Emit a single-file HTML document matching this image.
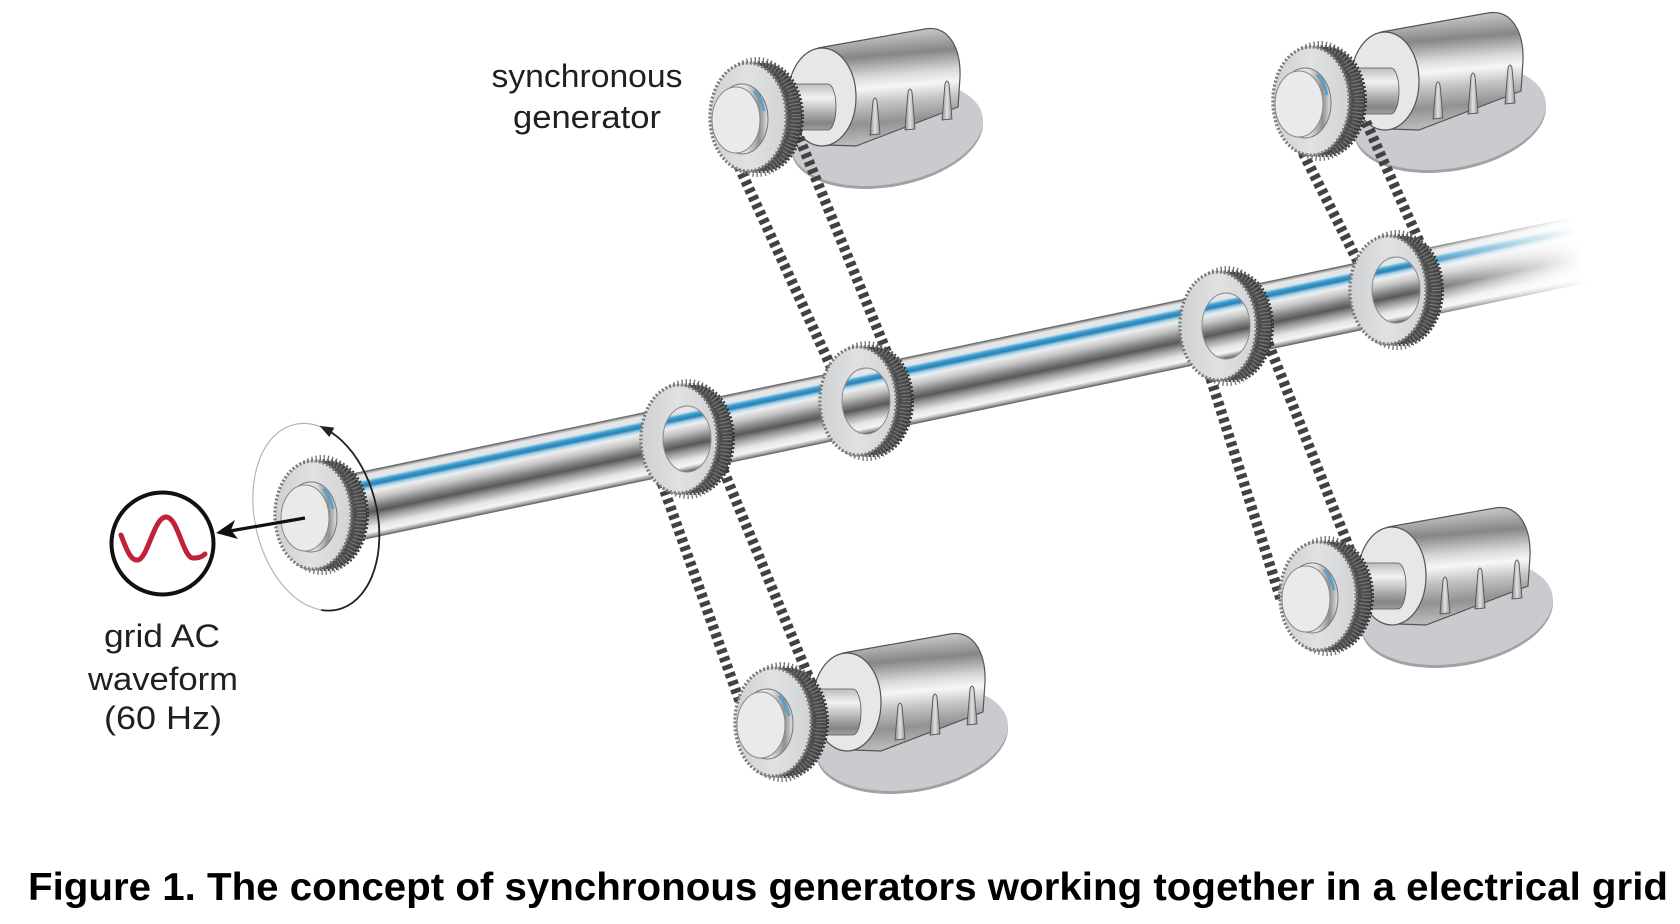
<!DOCTYPE html>
<html><head><meta charset="utf-8"><style>
html,body{margin:0;padding:0;background:#fff;}
svg{display:block;}
</style></head><body>
<svg width="1680" height="924" viewBox="0 0 1680 924" xmlns="http://www.w3.org/2000/svg">
<defs>
  <linearGradient id="shaftGrad" gradientUnits="userSpaceOnUse" x1="0" y1="-33" x2="0" y2="33">
    <stop offset="0" stop-color="#7d7d7d"/>
    <stop offset="0.05" stop-color="#e6e6e6"/>
    <stop offset="0.12" stop-color="#e0e6ea"/>
    <stop offset="0.165" stop-color="#3a9fd3"/>
    <stop offset="0.215" stop-color="#2a80b2"/>
    <stop offset="0.26" stop-color="#a9d4ea"/>
    <stop offset="0.31" stop-color="#eeeeee"/>
    <stop offset="0.42" stop-color="#c4c4c4"/>
    <stop offset="0.54" stop-color="#7f7f7f"/>
    <stop offset="0.62" stop-color="#595959"/>
    <stop offset="0.71" stop-color="#9c9c9c"/>
    <stop offset="0.83" stop-color="#e4e4e4"/>
    <stop offset="0.92" stop-color="#f5f5f5"/>
    <stop offset="1" stop-color="#7a7a7a"/>
  </linearGradient>
  <linearGradient id="fadeGrad" gradientUnits="userSpaceOnUse" x1="1110" y1="0" x2="1290" y2="0">
    <stop offset="0" stop-color="#fff"/>
    <stop offset="1" stop-color="#000"/>
  </linearGradient>
  <mask id="shaftFade" maskUnits="userSpaceOnUse" x="-30" y="-80" width="1360" height="160">
    <rect x="-30" y="-80" width="1360" height="160" fill="url(#fadeGrad)"/>
  </mask>
  <linearGradient id="bodyGrad" gradientUnits="userSpaceOnUse" x1="100" y1="-92" x2="110" y2="25">
    <stop offset="0" stop-color="#e2e2e2"/>
    <stop offset="0.12" stop-color="#bdbdbd"/>
    <stop offset="0.28" stop-color="#868686"/>
    <stop offset="0.45" stop-color="#d8d8d8"/>
    <stop offset="0.55" stop-color="#f7f7f7"/>
    <stop offset="0.68" stop-color="#c4c4c4"/>
    <stop offset="0.85" stop-color="#929292"/>
    <stop offset="1" stop-color="#b8b8b8"/>
  </linearGradient>
  <linearGradient id="axleGrad" gradientUnits="userSpaceOnUse" x1="0" y1="-33" x2="0" y2="13">
    <stop offset="0" stop-color="#bdbdbd"/>
    <stop offset="0.3" stop-color="#f2f2f2"/>
    <stop offset="0.6" stop-color="#b5b5b5"/>
    <stop offset="0.85" stop-color="#858585"/>
    <stop offset="1" stop-color="#a0a0a0"/>
  </linearGradient>
  <linearGradient id="finGrad" x1="0" y1="0" x2="1" y2="0">
    <stop offset="0" stop-color="#8a8a8a"/>
    <stop offset="0.5" stop-color="#e2e2e2"/>
    <stop offset="1" stop-color="#949494"/>
  </linearGradient>
  <linearGradient id="faceGrad" gradientUnits="userSpaceOnUse" x1="-38" y1="0" x2="38" y2="0">
    <stop offset="0" stop-color="#cfd0d2"/>
    <stop offset="0.5" stop-color="#e0e1e3"/>
    <stop offset="1" stop-color="#d2d3d5"/>
  </linearGradient>
  <linearGradient id="capGrad" gradientUnits="userSpaceOnUse" x1="-31" y1="0" x2="19" y2="0">
    <stop offset="0" stop-color="#f4f4f4"/>
    <stop offset="0.6" stop-color="#e0e0e0"/>
    <stop offset="0.85" stop-color="#909090"/>
    <stop offset="1" stop-color="#d8d8d8"/>
  </linearGradient>

  <g id="shaft" transform="translate(318,515) rotate(-11.86)">
    <g mask="url(#shaftFade)">
      <rect x="-10" y="-33" width="1300" height="66" fill="url(#shaftGrad)"/>
      <line x1="-10" y1="-33" x2="1290" y2="-33" stroke="#6d6d6d" stroke-width="1.3"/>
      <line x1="-10" y1="33" x2="1290" y2="33" stroke="#6d6d6d" stroke-width="1.3"/>
    </g>
  </g>

  <g id="genbody">
    <ellipse cx="139" cy="19" rx="97" ry="51" transform="rotate(-10 139 19)" fill="#a0a2a5"/>
    <ellipse cx="139" cy="16" rx="97" ry="51" transform="rotate(-10 139 16)" fill="#c9cbce"/>
    <path d="M70 -69 L177 -88 C200 -92 213 -70 212 -40 L210 -10 L108 29 L80 28 Z" fill="url(#bodyGrad)" stroke="#555" stroke-width="1.2"/>
    <ellipse cx="74" cy="-20" rx="34" ry="49" fill="#e6e7e8" stroke="#555" stroke-width="1.2"/>
    <path d="M122 18 L125 -16 Q127 -22 129 -16 L132 17 Z" fill="url(#finGrad)" stroke="#555" stroke-width="0.9"/>
    <path d="M157 13 L160 -25 Q162 -31 164 -25 L167 12 Z" fill="url(#finGrad)" stroke="#555" stroke-width="0.9"/>
    <path d="M194 3 L197 -33 Q199 -39 201 -33 L204 2 Z" fill="url(#finGrad)" stroke="#555" stroke-width="0.9"/>
    <path d="M20 -33 L80 -33 A8 23 0 0 1 80 13 L20 13 Z" fill="url(#axleGrad)" stroke="#555" stroke-width="0.8"/>
  </g>

  <g id="gearbase">
    <ellipse cx="16" cy="0" rx="38" ry="54" fill="#464646" stroke="#363636" stroke-width="4" stroke-dasharray="2 2"/>
    <ellipse cx="12" cy="0" rx="38" ry="54" fill="#4c4c4c" stroke="#404040" stroke-width="4" stroke-dasharray="2 2"/>
    <ellipse cx="9" cy="0" rx="38" ry="54" fill="none" stroke="#767676" stroke-width="12" stroke-dasharray="1.2 2.4"/>
    <ellipse cx="4" cy="0" rx="38" ry="54" fill="#555" stroke="#4a4a4a" stroke-width="3" stroke-dasharray="2 2"/>
    <ellipse cx="0" cy="0" rx="38" ry="54" fill="#dadbdd" stroke="#7a7a7a" stroke-width="3.5" stroke-dasharray="2 2"/>
    <ellipse cx="0" cy="0" rx="36.5" ry="52.5" fill="url(#faceGrad)"/>
  </g>

  <g id="gcap">
    <ellipse cx="-6" cy="2" rx="26" ry="35" fill="url(#capGrad)" stroke="#777" stroke-width="1"/>
    <path d="M6 -26 Q14 -18 16 -6" fill="none" stroke="#4aa3d4" stroke-width="2.5"/>
    <ellipse cx="-12" cy="3" rx="24" ry="33" fill="#e9eaeb" stroke="#888" stroke-width="1"/>
  </g>

  <clipPath id="h2"><ellipse cx="687" cy="439" rx="24" ry="33"/></clipPath>
  <clipPath id="h3"><ellipse cx="866" cy="401" rx="24" ry="33"/></clipPath>
  <clipPath id="h4"><ellipse cx="1226" cy="326" rx="24" ry="33"/></clipPath>
  <clipPath id="h5"><ellipse cx="1396" cy="290" rx="24" ry="33"/></clipPath>
</defs>

<rect width="1680" height="924" fill="#fff"/>

<!-- shaft -->
<use href="#shaft"/>

<!-- generator bodies -->
<use href="#genbody" x="748" y="117"/>
<use href="#genbody" x="1311" y="101"/>
<use href="#genbody" x="773" y="722"/>
<use href="#genbody" x="1318" y="596"/>

<!-- belts -->
<g stroke="#424242" stroke-width="10.5" stroke-dasharray="4.6 3.8" fill="none">
  <line x1="735" y1="158" x2="838" y2="382"/>
  <line x1="796" y1="130" x2="890" y2="360"/>
  <line x1="659" y1="475" x2="741" y2="705"/>
  <line x1="720" y1="462" x2="812" y2="685"/>
  <line x1="1299" y1="145" x2="1358" y2="262"/>
  <line x1="1366" y1="122" x2="1424" y2="252"/>
  <line x1="1208" y1="370" x2="1281" y2="600"/>
  <line x1="1265" y1="335" x2="1354" y2="560"/>
</g>

<!-- shaft gears -->
<use href="#gearbase" x="679" y="439"/>
<use href="#shaft" clip-path="url(#h2)"/>
<ellipse cx="687" cy="439" rx="24" ry="33" fill="none" stroke="#8a8a8a" stroke-width="1"/>

<use href="#gearbase" x="858" y="401"/>
<use href="#shaft" clip-path="url(#h3)"/>
<ellipse cx="866" cy="401" rx="24" ry="33" fill="none" stroke="#8a8a8a" stroke-width="1"/>

<use href="#gearbase" x="1218" y="326"/>
<use href="#shaft" clip-path="url(#h4)"/>
<ellipse cx="1226" cy="326" rx="24" ry="33" fill="none" stroke="#8a8a8a" stroke-width="1"/>

<use href="#gearbase" x="1388" y="290"/>
<use href="#shaft" clip-path="url(#h5)"/>
<ellipse cx="1396" cy="290" rx="24" ry="33" fill="none" stroke="#8a8a8a" stroke-width="1"/>

<!-- generator gears -->
<use href="#gearbase" x="748" y="117"/><use href="#gcap" x="748" y="117"/>
<use href="#gearbase" x="1311" y="101"/><use href="#gcap" x="1311" y="101"/>
<use href="#gearbase" x="773" y="722"/><use href="#gcap" x="773" y="722"/>
<use href="#gearbase" x="1318" y="596"/><use href="#gcap" x="1318" y="596"/>

<!-- left end gear -->
<use href="#gearbase" x="313" y="515"/><use href="#gcap" x="317" y="515"/>

<!-- rotation ring -->
<g transform="translate(316,517) rotate(-13)">
  <ellipse cx="0" cy="0" rx="61" ry="95" fill="none" stroke="#b5b5b5" stroke-width="1.2"/>
  <path d="M30.5 -82.3 A61 95 0 0 1 -15.8 91.8" fill="none" stroke="#222" stroke-width="1.8"/>
  <polygon points="24,-88 38,-83 31,-75" fill="#222"/>
</g>

<!-- arrow to waveform -->
<line x1="305" y1="518" x2="230" y2="531" stroke="#111" stroke-width="3.2"/>
<polygon points="216,533 235,520 231,530 238,539" fill="#111"/>

<!-- waveform circle -->
<circle cx="162.5" cy="543.5" r="51" fill="#fff" stroke="#111" stroke-width="4"/>
<path d="M121,535 C127,551 131,561 138,560 C148,558 154,517 166,517 C178,517 183,558 193,558 C199,558 202,557 205,554" fill="none" stroke="#c0223a" stroke-width="5" stroke-linecap="round"/>

<!-- labels -->
<g font-family="'Liberation Sans', sans-serif" font-size="32" fill="#231f20" text-anchor="middle">
  <text x="587" y="87" textLength="191" lengthAdjust="spacingAndGlyphs">synchronous</text>
  <text x="587" y="128" textLength="148" lengthAdjust="spacingAndGlyphs">generator</text>
  <text x="162" y="647" textLength="116" lengthAdjust="spacingAndGlyphs">grid AC</text>
  <text x="163" y="690" textLength="150" lengthAdjust="spacingAndGlyphs">waveform</text>
  <text x="163" y="729" textLength="118" lengthAdjust="spacingAndGlyphs">(60 Hz)</text>
</g>

<text x="28" y="900" font-family="'Liberation Sans', Arial, sans-serif" font-weight="bold" font-size="39" fill="#000" textLength="1640" lengthAdjust="spacingAndGlyphs">Figure 1. The concept of synchronous generators working together in a electrical grid</text>
</svg>
</body></html>
